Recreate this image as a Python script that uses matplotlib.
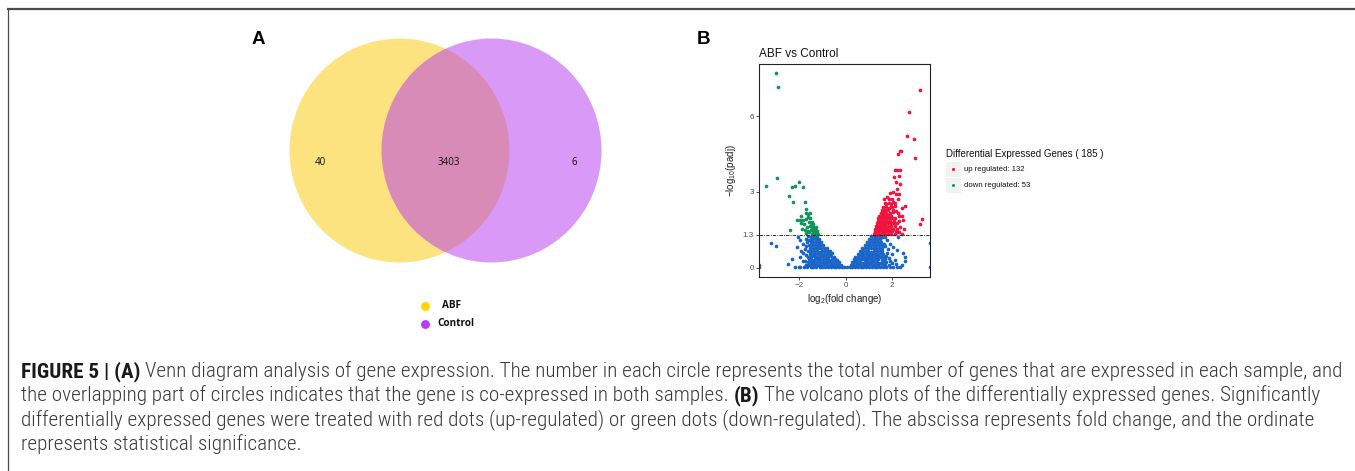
import matplotlib
matplotlib.use('Agg')
import matplotlib.pyplot as plt
from matplotlib.patches import Circle, Rectangle
from matplotlib.lines import Line2D
from matplotlib import font_manager as fm

# ---------------- data ----------------
venn_sets = ['ABF', 'Control']
venn_only_abf = 40
venn_shared = 3403
venn_only_control = 6

volcano_title = 'ABF vs Control'
padj_threshold = 1.3
x_ticks = [-2, 0, 2]
x_tick_labels = ['\u22122', '0', '2']
y_ticks = [0, 1.3, 3, 6]
y_tick_labels = ['0', '1.3', '3', '6']
n_up = 132
n_down = 53

blue_pts = [
    # left arm
    (-1.95, 0.02), (-1.8, 0.04), (-1.65, 0.03), (-1.5, 0.02), (-1.38, 0.04), (-1.25, 0.03), (-1.12, 0.02),
    (-1.0, 0.04), (-0.88, 0.03), (-0.76, 0.02), (-0.64, 0.04), (-0.52, 0.03), (-0.4, 0.02), (-0.28, 0.03),
    (-0.17, 0.02), (-0.07, 0.01),
    (-1.72, 0.12), (-1.56, 0.1), (-1.43, 0.13), (-1.3, 0.11), (-1.18, 0.12), (-1.05, 0.1), (-0.93, 0.13),
    (-0.81, 0.11), (-0.69, 0.12), (-0.57, 0.1), (-0.45, 0.13), (-0.33, 0.11), (-0.22, 0.09),
    (-1.63, 0.22), (-1.49, 0.21), (-1.36, 0.23), (-1.23, 0.22), (-1.1, 0.2), (-0.98, 0.23), (-0.86, 0.22),
    (-0.74, 0.21), (-0.62, 0.23), (-0.5, 0.22), (-0.38, 0.2), (-0.3, 0.24),
    (-1.58, 0.33), (-1.45, 0.32), (-1.32, 0.34), (-1.2, 0.33), (-1.08, 0.31), (-0.95, 0.34), (-0.83, 0.33),
    (-0.71, 0.32), (-0.59, 0.34), (-0.47, 0.33), (-0.38, 0.31),
    (-1.6, 0.44), (-1.47, 0.43), (-1.35, 0.45), (-1.22, 0.44), (-1.1, 0.42), (-0.98, 0.45), (-0.86, 0.44),
    (-0.74, 0.43), (-0.62, 0.45), (-0.5, 0.44),
    (-1.55, 0.55), (-1.42, 0.54), (-1.3, 0.56), (-1.18, 0.55), (-1.05, 0.53), (-0.93, 0.56), (-0.81, 0.55),
    (-0.69, 0.54), (-0.6, 0.57),
    (-1.6, 0.66), (-1.48, 0.65), (-1.36, 0.67), (-1.24, 0.66), (-1.12, 0.64), (-1.0, 0.67), (-0.88, 0.66),
    (-0.76, 0.65), (-0.69, 0.68),
    (-1.52, 0.78), (-1.4, 0.77), (-1.28, 0.79), (-1.16, 0.78), (-1.04, 0.76), (-0.92, 0.79), (-0.82, 0.78),
    (-1.56, 0.9), (-1.44, 0.89), (-1.32, 0.91), (-1.2, 0.9), (-1.08, 0.88), (-0.96, 0.91),
    (-1.5, 1.02), (-1.38, 1.01), (-1.26, 1.03), (-1.14, 1.02), (-1.05, 1.0),
    (-1.45, 1.14), (-1.33, 1.13), (-1.22, 1.15), (-1.13, 1.12),
    (-1.4, 1.25), (-1.3, 1.24), (-1.21, 1.26), (-1.5, 1.2),
    # left scattered
    (-3.73, 0.1), (-3.73, 0.02), (-3.22, 0.99), (-2.99, 0.87), (-2.46, 0.15), (-2.16, 0.04), (-2.0, 0.03),
    (-1.75, 0.28), (-1.85, 0.28), (-1.85, 0.57), (-1.96, 0.44), (-2.1, 0.83), (-1.82, 0.94), (-1.7, 0.85),
    (-1.92, 0.68), (-2.03, 1.23), (-1.95, 1.1), (-1.7, 1.15), (-1.65, 1.0), (-1.75, 0.72), (-1.68, 0.5),
    (-1.72, 0.12), (-2.3, 0.35), (-1.62, 1.25), (-1.57, 1.1),
    # right arm
    (0.07, 0.01), (0.17, 0.02), (0.28, 0.03), (0.4, 0.02), (0.52, 0.04), (0.64, 0.03), (0.76, 0.02),
    (0.88, 0.04), (1.0, 0.03), (1.12, 0.02), (1.24, 0.04), (1.36, 0.03), (1.48, 0.02), (1.6, 0.04),
    (1.75, 0.03), (1.9, 0.02), (2.05, 0.04),
    (0.22, 0.09), (0.33, 0.12), (0.45, 0.1), (0.57, 0.13), (0.69, 0.11), (0.81, 0.12), (0.93, 0.1),
    (1.05, 0.13), (1.17, 0.11), (1.29, 0.12), (1.41, 0.1), (1.54, 0.13), (1.68, 0.11), (1.84, 0.12),
    (0.27, 0.22), (0.38, 0.21), (0.5, 0.23), (0.62, 0.22), (0.74, 0.2), (0.86, 0.23), (0.98, 0.22),
    (1.1, 0.21), (1.22, 0.23), (1.34, 0.22), (1.46, 0.2), (1.59, 0.23), (1.73, 0.22),
    (0.34, 0.33), (0.45, 0.32), (0.57, 0.34), (0.69, 0.33), (0.81, 0.31), (0.93, 0.34), (1.05, 0.33),
    (1.17, 0.32), (1.29, 0.34), (1.41, 0.33), (1.54, 0.31), (1.67, 0.34),
    (0.42, 0.44), (0.54, 0.43), (0.66, 0.45), (0.78, 0.44), (0.9, 0.42), (1.02, 0.45), (1.14, 0.44),
    (1.26, 0.43), (1.38, 0.45), (1.5, 0.44), (1.63, 0.42),
    (0.52, 0.55), (0.64, 0.54), (0.76, 0.56), (0.88, 0.55), (1.0, 0.53), (1.12, 0.56), (1.24, 0.55),
    (1.36, 0.54), (1.48, 0.56), (1.6, 0.55),
    (0.62, 0.66), (0.74, 0.65), (0.86, 0.67), (0.98, 0.66), (1.1, 0.64), (1.22, 0.67), (1.34, 0.66),
    (1.46, 0.65), (1.58, 0.67),
    (0.72, 0.78), (0.84, 0.77), (0.96, 0.79), (1.08, 0.78), (1.2, 0.76), (1.32, 0.79), (1.44, 0.78),
    (1.56, 0.77),
    (0.82, 0.9), (0.94, 0.89), (1.06, 0.91), (1.18, 0.9), (1.3, 0.88), (1.42, 0.91), (1.55, 0.9),
    (0.92, 1.02), (1.04, 1.01), (1.16, 1.03), (1.28, 1.02), (1.4, 1.0), (1.52, 1.03),
    (1.0, 1.14), (1.12, 1.13), (1.24, 1.15), (1.36, 1.14), (1.48, 1.12),
    (1.08, 1.25), (1.2, 1.24), (1.32, 1.26), (1.44, 1.25), (1.56, 1.23),
    # right scattered
    (3.62, 0.96), (3.62, 0.04), (2.26, 1.23), (1.76, 1.1), (1.9, 0.95), (2.05, 0.83), (2.2, 0.7),
    (1.76, 0.57), (2.47, 0.57), (2.55, 0.41), (2.55, 0.28), (1.97, 0.17), (2.33, 0.04), (2.4, 0.1),
    (2.2, 0.03), (2.1, 0.3), (1.85, 0.4), (1.7, 0.85), (1.68, 1.2), (1.65, 0.95), (1.8, 0.72),
    (2.0, 0.55), (2.15, 0.15), (1.9, 0.25), (1.72, 0.45),
]

green_pts = [
    (-2.98, 7.69), (-2.90, 7.13), (-2.95, 3.55), (-3.42, 3.23), (-2.02, 3.4), (-2.18, 3.22), (-2.32, 3.2),
    (-1.84, 3.18), (-2.45, 2.85), (-2.26, 2.6), (-1.76, 2.6), (-1.68, 2.32), (-1.72, 2.16), (-1.6, 2.12),
    (-1.52, 2.16), (-1.62, 2.02), (-1.97, 1.9), (-1.83, 1.9), (-1.68, 1.92), (-1.55, 1.96), (-1.9, 1.76),
    (-1.78, 1.73), (-1.45, 1.8), (-2.4, 1.5), (-1.65, 1.6), (-1.55, 1.63), (-1.42, 1.66), (-1.35, 1.55),
    (-1.5, 1.5), (-1.4, 1.45), (-1.3, 1.42), (-1.25, 1.35), (-1.33, 1.34), (-1.22, 1.39), (-1.28, 1.5),
    (-1.37, 1.38), (-1.46, 1.35), (-1.2, 1.32), (-1.27, 1.62), (-1.62, 1.45), (-1.75, 1.5), (-1.86, 1.55),
    (-1.5, 1.75), (-1.38, 1.72), (-1.58, 1.82), (-2.1, 1.9), (-1.72, 1.38), (-1.3, 1.31), (-1.24, 1.46),
    (-1.34, 1.48), (-1.9, 2.05), (-1.44, 1.58), (-1.56, 1.4),
]

red_pts = [
    (1.2, 1.35), (1.3, 1.35), (1.4, 1.35), (1.5, 1.35), (1.6, 1.35), (1.7, 1.35), (1.82, 1.35), (1.95, 1.35), (2.1, 1.35),
    (1.24, 1.45), (1.34, 1.45), (1.44, 1.45), (1.54, 1.45), (1.64, 1.45), (1.75, 1.45), (1.87, 1.45), (2.0, 1.45), (2.15, 1.45),
    (1.27, 1.55), (1.37, 1.55), (1.47, 1.55), (1.57, 1.55), (1.67, 1.55), (1.78, 1.55), (1.9, 1.55), (2.05, 1.55),
    (1.3, 1.65), (1.4, 1.65), (1.5, 1.65), (1.6, 1.65), (1.7, 1.65), (1.82, 1.65), (1.95, 1.65), (2.12, 1.65),
    (1.33, 1.75), (1.43, 1.75), (1.53, 1.75), (1.63, 1.75), (1.74, 1.75), (1.86, 1.75), (2.0, 1.75),
    (1.37, 1.85), (1.47, 1.85), (1.57, 1.85), (1.67, 1.85), (1.78, 1.85), (1.92, 1.85), (2.08, 1.85),
    (1.4, 1.95), (1.5, 1.95), (1.6, 1.95), (1.72, 1.95), (1.85, 1.95), (2.0, 1.95),
    (1.45, 2.05), (1.55, 2.05), (1.66, 2.05), (1.78, 2.05), (1.93, 2.05),
    (1.5, 2.15), (1.62, 2.15), (1.75, 2.15), (1.9, 2.15),
    (1.55, 2.28), (1.68, 2.28), (1.82, 2.28), (2.02, 2.28),
    (1.6, 2.4), (1.75, 2.4), (1.95, 2.4),
    (1.68, 2.55), (1.85, 2.55), (2.1, 2.55),
    (3.19, 7.03), (2.73, 6.16), (2.62, 5.2), (2.95, 5.1), (2.98, 4.35), (2.32, 4.6), (2.38, 4.62), (2.26, 4.48),
    (2.12, 3.86), (2.22, 3.86), (2.32, 3.86), (2.06, 3.6), (2.3, 3.62), (2.16, 3.4), (2.35, 3.3), (2.2, 3.12),
    (2.05, 3.0), (1.92, 2.95), (2.15, 2.9), (2.3, 2.92), (1.88, 2.72), (2.0, 2.72), (2.25, 2.7), (1.78, 2.78),
    (2.4, 2.35), (2.3, 2.05), (2.45, 1.9), (2.2, 1.75), (2.35, 1.6), (2.19, 1.42), (2.5, 1.55), (2.12, 2.45),
    (3.19, 1.71), (3.29, 1.91), (1.65, 2.7), (2.0, 2.4), (2.15, 2.25), (2.25, 2.18), (2.4, 2.05), (2.1, 1.95),
    (2.3, 1.4), (2.4, 1.35), (2.05, 2.2), (1.95, 2.5), (2.05, 2.6), (2.55, 2.45), (2.2, 1.55), (2.28, 1.85), (2.08, 1.78),
    (1.25, 1.4), (1.35, 1.52), (1.45, 1.62), (1.52, 1.72), (1.6, 1.84), (1.7, 1.99), (1.82, 2.1), (1.88, 2.35),
    (1.73, 2.5), (1.6, 2.2),
]

caption_lines = [
    [('FIGURE 5 | (A)', 'bold'),
     ('Venn diagram analysis of gene expression. The number in each circle represents the total number of genes that are expressed in each sample, and', 'normal')],
    [('the overlapping part of circles indicates that the gene is co-expressed in both samples.', 'normal'),
     ('(B)', 'bold'),
     ('The volcano plots of the differentially expressed genes. Significantly', 'normal')],
    [('differentially expressed genes were treated with red dots (up-regulated) or green dots (down-regulated). The abscissa represents fold change, and the ordinate', 'normal')],
    [('represents statistical significance.', 'normal')],
]

# ---------------- styling ----------------
W, H = 1355, 471
DPI = 100


def have(name):
    try:
        fm.findfont(fm.FontProperties(family=name), fallback_to_default=False)
        return True
    except Exception:
        return False


def first_font(cands):
    for c in cands:
        if have(c):
            return c
    return 'DejaVu Sans'


sans = first_font(['Liberation Sans', 'Arimo', 'DejaVu Sans'])
venn_font = first_font(['Open Sans', 'Noto Sans', 'DejaVu Sans'])
cap_font = first_font(['Liberation Sans Narrow', 'Roboto Condensed', 'DejaVu Sans Condensed', 'Liberation Sans'])

plt.rcParams['font.family'] = [sans, 'DejaVu Sans']
plt.rcParams['mathtext.fontset'] = 'custom'
plt.rcParams['mathtext.rm'] = sans
plt.rcParams['mathtext.it'] = sans + ':italic'
plt.rcParams['mathtext.bf'] = sans + ':bold'

fig = plt.figure(figsize=(W / DPI, H / DPI), dpi=DPI)
fig.patch.set_facecolor('white')

# overlay axes in pixel units (for layout: borders, legends, caption)
ov = fig.add_axes([0, 0, 1, 1], zorder=5)
ov.set_xlim(0, W)
ov.set_ylim(H, 0)
ov.axis('off')
ov.patch.set_alpha(0)

# frame lines
ov.add_line(Line2D([7, W], [9, 9], color='#4a4a4a', lw=1.6, solid_capstyle='butt'))
ov.add_line(Line2D([7.5, 7.5], [9, H], color='#4a4a4a', lw=0.9, solid_capstyle='butt'))

# panel letters
ov.text(258, 44, 'A', fontsize=13.5, fontweight='bold', ha='center', va='baseline', color='black')
ov.text(703, 44, 'B', fontsize=13.5, fontweight='bold', ha='center', va='baseline', color='black')

# ---------------- Venn ----------------
r_px_x, r_px_y = 110.0, 112.0
cxA, cyA = 399.5, 150.5
box = (280, 30, 610, 270)  # pixel box of the venn axes
axv = fig.add_axes([box[0] / W, 1 - box[3] / H, (box[2] - box[0]) / W, (box[3] - box[1]) / H])
axv.set_xlim((box[0] - cxA) / r_px_x, (box[2] - cxA) / r_px_x)
axv.set_ylim(-(box[3] - cyA) / r_px_y, (cyA - box[1]) / r_px_y)
axv.axis('off')
d = 92.0 / r_px_x
colA = '#FBC800'
colB = '#B535EF'
axv.add_patch(Circle((0, 0), 1.0, facecolor=colA, alpha=0.5, edgecolor='none'))
axv.add_patch(Circle((d, 0), 1.0, facecolor=colB, alpha=0.5, edgecolor='none'))
ty = -12 / r_px_y
for xv, val in [(-0.72, venn_only_abf), (0.45, venn_shared), (1.585, venn_only_control)]:
    axv.text(xv, ty, str(val), ha='center', va='center', fontsize=7, family=venn_font, color='#111')

# venn legend
ov.plot([425], [306], 'o', ms=6.4, color='#FFD500', mec='none')
ov.plot([425], [324], 'o', ms=6.4, color='#B83CFA', mec='none')
ov.text(441.5, 306, venn_sets[0], fontsize=7.2, fontweight='bold', family=venn_font, va='center', ha='left', color='#111')
ov.text(437, 324, venn_sets[1], fontsize=7.2, fontweight='bold', family=venn_font, va='center', ha='left', color='#111')

# ---------------- Volcano ----------------
L, R, T, B = 758.7, 930.0, 63.7, 277.3
ax = fig.add_axes([L / W, 1 - B / H, (R - L) / W, (B - T) / H])
ax.set_xlim(-3.73, 3.62)
ax.set_ylim(-0.38, 8.07)
ms = 7.0
ax.scatter([p[0] for p in blue_pts], [p[1] for p in blue_pts], s=ms, c='#1964C8', linewidths=0, zorder=2)
ax.scatter([p[0] for p in green_pts], [p[1] for p in green_pts], s=ms, c='#12955A', linewidths=0, zorder=3)
ax.scatter([p[0] for p in red_pts], [p[1] for p in red_pts], s=ms, c='#EE143E', linewidths=0, zorder=3)
ax.axhline(padj_threshold, color='#111111', lw=0.6, ls=(0, (4, 1.5, 1, 1.5)), zorder=4)
ax.set_xticks(x_ticks)
ax.set_xticklabels(x_tick_labels)
ax.set_yticks(y_ticks)
ax.set_yticklabels(y_tick_labels)
ax.tick_params(length=2.0, width=0.6, color='#333333', labelsize=5.8, labelcolor='#4D4D4D', pad=1.5)
for sp in ax.spines.values():
    sp.set_linewidth(0.8)
    sp.set_color('#222222')
ax.set_xlabel('log$_2$(fold change)', fontsize=7, color='#222222')
ax.set_ylabel('\u2212log$_{10}$(padj)', fontsize=7, color='#222222')
ax.xaxis.set_label_coords(0.5, (B - 291.5) / (B - T))
ax.yaxis.set_label_coords((738.5 - L) / (R - L), 0.5)

ov.text(759, 57, volcano_title, fontsize=8.5, ha='left', va='baseline', color='#111111')

# volcano legend (layout drawn in pixel overlay)
ov.text(946, 157.3, f'Differential Expressed Genes ( {n_up + n_down} )', fontsize=7.0, ha='left', va='baseline', color='#111')
ov.add_patch(Rectangle((946, 161.8), 14.6, 15, facecolor='#F2F2F2', edgecolor='none'))
ov.add_patch(Rectangle((946, 177.6), 14.6, 15, facecolor='#F2F2F2', edgecolor='none'))
ov.plot([953.3], [169.3], 'o', ms=2.2, color='#EE143E', mec='none')
ov.plot([953.3], [185.1], 'o', ms=2.2, color='#12955A', mec='none')
ov.text(963.5, 169.3, f'up regulated: {n_up}', fontsize=5.6, ha='left', va='center', color='#111')
ov.text(963.5, 185.1, f'down regulated: {n_down}', fontsize=5.6, ha='left', va='center', color='#111')

# ---------------- Caption ----------------
renderer = fig.canvas.get_renderer()
normal_w = 'light' if cap_font == 'Roboto Condensed' else 'normal'


def measure(s, fs, weight):
    t = ov.text(0, 100, s, fontsize=fs, fontweight=weight, family=cap_font)
    w = t.get_window_extent(renderer).width
    t.remove()
    return w


def wt_of(k):
    return 'bold' if k == 'bold' else normal_w


fs0 = 10.0
sp0 = measure('a a', fs0, normal_w) - measure('aa', fs0, normal_w)
w1 = sum(measure(s, fs0, wt_of(k)) for s, k in caption_lines[0]) + sp0 * (len(caption_lines[0]) - 1)
cap_x0, cap_x1 = 21.0, 1342.0
fs = fs0 * (cap_x1 - cap_x0) / w1
sp = measure('a a', fs, normal_w) - measure('aa', fs, normal_w)
baselines = [377.0, 401.3, 425.6, 450.0]
for runs, yb in zip(caption_lines, baselines):
    x = cap_x0
    for s, k in runs:
        col = '#1a1a1a' if k == 'bold' else '#3a3a3a'
        t = ov.text(x, yb, s, fontsize=fs, fontweight=wt_of(k), family=cap_font, ha='left', va='baseline', color=col)
        x += t.get_window_extent(renderer).width + sp

fig.savefig('out.png', dpi=DPI, facecolor='white')
